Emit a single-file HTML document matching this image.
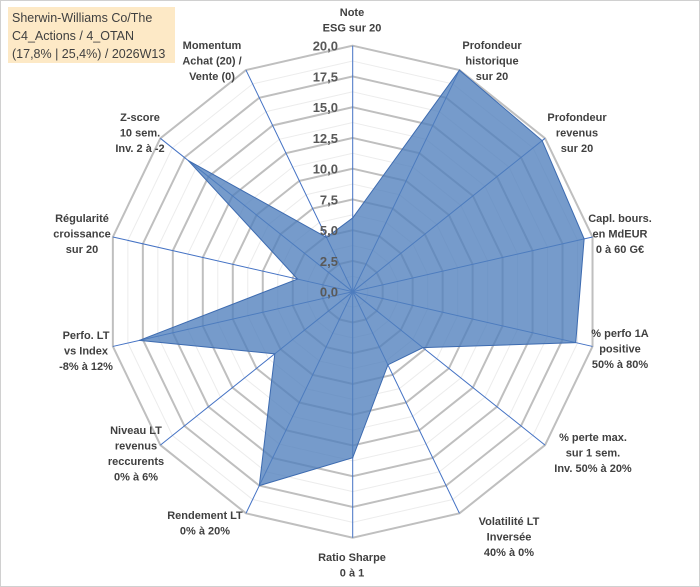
<!DOCTYPE html>
<html><head><meta charset="utf-8"><style>
html,body{margin:0;padding:0;background:#fff;}
#wrap{position:relative;width:700px;height:587px;overflow:hidden;font-family:"Liberation Sans",sans-serif;}
svg text{font-family:"Liberation Sans",sans-serif;}
</style></head><body>
<div id="wrap">
<svg id="chart" width="700" height="587">
<rect x="0.5" y="0.5" width="699" height="586" fill="#fff" stroke="#d0d0d0"/>
<g id="grid"></g><g id="axes"></g><g id="series"></g><g id="ticks"></g><g id="labels"></g>
<rect x="8" y="7" width="167" height="56" fill="#fde9c6"/>
<text x="12" y="22" font-size="12.5" fill="#404040">Sherwin-Williams Co/The</text>
<text x="12" y="40" font-size="12.5" fill="#404040">C4_Actions / 4_OTAN</text>
<text x="12" y="58" font-size="12.5" fill="#404040">(17,8% | 25,4%) / 2026W13</text>
</svg>
</div>
<script>
const categories=[["Note","ESG sur 20"],["Profondeur","historique","sur 20"],["Profondeur","revenus","sur 20"],["Capl. bours.","en MdEUR","0 à 60 G€"],["% perfo 1A","positive","50% à 80%"],["% perte max.","sur 1 sem.","Inv. 50% à 20%"],["Volatilité LT","Inversée","40% à 0%"],["Ratio Sharpe","0 à 1"],["Rendement LT","0% à 20%"],["Niveau LT","revenus","reccurents","0% à 6%"],["Perfo. LT","vs Index","-8% à 12%"],["Régularité","croissance","sur 20"],["Z-score","10 sem.","Inv. 2 à -2"],["Momentum","Achat (20) /","Vente (0)"]];
const values=[6.0,20,19.7,19.3,18.6,7.3,6.6,13.5,17.5,8.1,17.8,4.6,17.1,4.9];
const tickLabels=["0,0","2,5","5,0","7,5","10,0","12,5","15,0","17,5","20,0"];
const labelPos=[[352,12],[492,45],[577,117],[620,218],[620,333],[593,437],[509,521],[352,557],[205,515],[136,430],[86,335],[82,218],[140,117],[212,45]];
const CX=352.7,CY=291.7,R=246,MAX=20,N=categories.length;
const NS="http://www.w3.org/2000/svg";
function ang(i){return -Math.PI/2+i*2*Math.PI/N;}
function pt(i,v){const r=v/MAX*R;return [CX+r*Math.cos(ang(i)),CY+r*Math.sin(ang(i))];}
function mk(tag,attrs,parent){const e=document.createElementNS(NS,tag);for(const k in attrs)e.setAttribute(k,attrs[k]);parent.appendChild(e);return e;}
const grid=document.getElementById('grid');
for(let k=1;k<=16;k++){const v=k*1.25;const ps=[];for(let i=0;i<N;i++)ps.push(pt(i,v).join(','));
 const major=k%2===0;
 const p=mk('polygon',{points:ps.join(' '),fill:'none',stroke:major?'#bfbfbf':'#ececec','stroke-width':major?2:1},grid);
 
 }
const axes=document.getElementById('axes');
for(let i=0;i<N;i++){const [x,y]=pt(i,MAX);const l=mk('line',{x1:CX,y1:CY,x2:x,y2:y,stroke:'#4472c4','stroke-width':1},axes);
 
 }
const ser=document.getElementById('series');
const sp=values.map((v,i)=>pt(i,v).join(',')).join(' ');
const poly=mk('polygon',{points:sp,fill:'#4f7fbc','fill-opacity':0.78,stroke:'#3d6bb0','stroke-width':1},ser);


const tk=document.getElementById('ticks');
tickLabels.forEach((t,k)=>{const y=CY-k*2.5/MAX*R;const e=mk('text',{x:338,y:y+5,'text-anchor':'end','font-size':13,'font-weight':'bold',fill:'#595959'},tk);e.textContent=t;
 
 });
const lb=document.getElementById('labels');
categories.forEach((lines,i)=>{const [x,y]=labelPos[i];const t=mk('text',{x:x,y:y+4,'text-anchor':'middle','font-size':11,'font-weight':'bold',fill:'#404040'},lb);
 
 
 lines.forEach((s,j)=>{const ts=mk('tspan',{x:x,dy:j?15.5:0},t);ts.textContent=s;});});
</script>
</body></html>
